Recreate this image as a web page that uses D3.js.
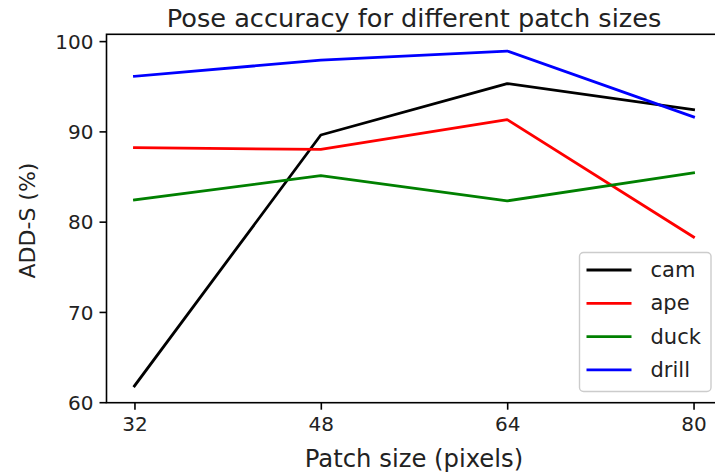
<!DOCTYPE html>
<html>
<head>
<meta charset="utf-8">
<script src="https://cdn.jsdelivr.net/npm/d3@7"></script>
<style>
  html, body { margin: 0; padding: 0; background: #fff; }
  svg { display: block; font-family: "DejaVu Sans", sans-serif; }
</style>
</head>
<body>
<svg id="chart" width="715" height="475"></svg>
<script>
const patchSizes = [32, 48, 64, 80];
const seriesNames = ["cam", "ape", "duck", "drill"];
const camValues = [61.8, 89.6, 95.3, 92.4];
const apeValues = [88.2, 88.0, 91.3, 78.3];
const duckValues = [82.4, 85.1, 82.3, 85.4];
const drillValues = [96.1, 97.9, 98.9, 91.6];
const seriesColors = ["#000000", "#ff0000", "#008000", "#0000ff"];
const yTicks = [60, 70, 80, 90, 100];
const titleText = "Pose accuracy for different patch sizes";
const xLabel = "Patch size (pixels)";
const yLabel = "ADD-S (%)";

const seriesValues = [camValues, apeValues, duckValues, drillValues];
const series = seriesNames.map((n, i) => ({
  name: n, color: seriesColors[i],
  points: patchSizes.map((p, j) => ({x: p, y: seriesValues[i][j]}))
}));

const mLeft = 106.5, mRight = 721.5, mTop = 34.3, mBottom = 402.7;
const svg = d3.select("#chart");

const allY = seriesValues.flat();
const yMin = d3.min(allY), yMax = d3.max(allY);
const ym = (yMax - yMin) * 0.05;
const xm = (d3.max(patchSizes) - d3.min(patchSizes)) * 0.05;

const x = d3.scaleLinear().domain([d3.min(patchSizes) - xm, d3.max(patchSizes) + xm]).range([mLeft, mRight]);
const y = d3.scaleLinear().domain([yMin - ym, yMax + ym]).range([mBottom, mTop]);

// lines
const line = d3.line().x(d => x(d.x)).y(d => y(d.y));
svg.append("g").selectAll("path").data(series).join("path")
  .attr("d", d => line(d.points))
  .attr("fill", "none")
  .attr("stroke", d => d.color)
  .attr("stroke-width", 2.8)
  .attr("stroke-linejoin", "round")
  .attr("stroke-linecap", "square");

// axes
const xAxis = d3.axisBottom(x).tickValues(patchSizes).tickSize(7).tickPadding(6).tickSizeOuter(0);
const gx = svg.append("g").attr("transform", `translate(0,${mBottom})`).call(xAxis);
const yAxis = d3.axisLeft(y).tickValues(yTicks).tickSize(7).tickPadding(6).tickSizeOuter(0);
const gy = svg.append("g").attr("transform", `translate(${mLeft},0)`).call(yAxis);
[gx, gy].forEach(g => {
  g.select(".domain").remove();
  g.selectAll(".tick line").attr("stroke", "#000").attr("stroke-width", 1.6);
  g.selectAll(".tick text").attr("fill", "#222").attr("font-size", 20)
    .attr("font-family", "DejaVu Sans, sans-serif");
});
gy.selectAll(".tick text").attr("dy", "0.36em");
gx.selectAll(".tick text").attr("dy", "0.76em");

// spines
svg.append("rect")
  .attr("x", mLeft).attr("y", mTop)
  .attr("width", mRight - mLeft).attr("height", mBottom - mTop)
  .attr("fill", "none").attr("stroke", "#000").attr("stroke-width", 1.6);

// title and labels
const cx = (mLeft + mRight) / 2;
svg.append("text").attr("x", cx).attr("y", 26.5).attr("text-anchor", "middle")
  .attr("font-size", 25.6).attr("fill", "#222").text(titleText);
svg.append("text").attr("x", cx).attr("y", 467).attr("text-anchor", "middle")
  .attr("font-size", 24.3).attr("fill", "#222").text(xLabel);
svg.append("text").attr("transform", `translate(34.5,${(mTop + mBottom) / 2 + 2}) rotate(-90)`)
  .attr("text-anchor", "middle").attr("font-size", 22).attr("fill", "#222").text(yLabel);

// legend
const lg = svg.append("g").attr("transform", "translate(579.5,252.5)");
lg.append("rect").attr("width", 131.5).attr("height", 139).attr("rx", 4)
  .attr("fill", "#fff").attr("fill-opacity", 0.8)
  .attr("stroke", "#cccccc").attr("stroke-width", 1.4);
const rows = lg.selectAll("g.row").data(series).join("g")
  .attr("transform", (d, i) => `translate(0,${17.5 + i * 33.3})`);
rows.append("line").attr("x1", 7).attr("x2", 52).attr("y1", 0).attr("y2", 0)
  .attr("stroke", d => d.color).attr("stroke-width", 2.8);
rows.append("text").attr("x", 71).attr("y", 0).attr("dy", "0.33em")
  .attr("font-size", 21).attr("fill", "#222").text(d => d.name);
</script>
</body>
</html>
